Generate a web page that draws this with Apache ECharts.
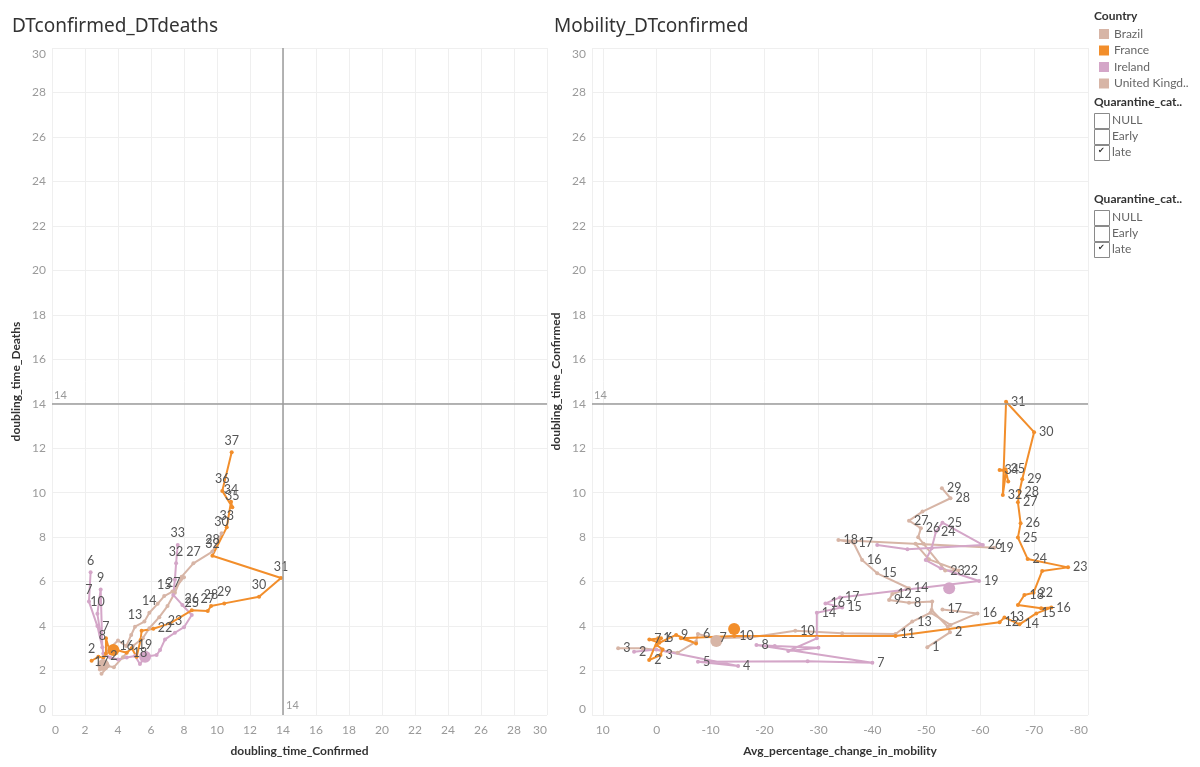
<!DOCTYPE html>
<html><head><meta charset="utf-8">
<script src="https://cdn.jsdelivr.net/npm/echarts/dist/echarts.min.js"></script>
<style>html,body{margin:0;padding:0;background:#fff}#c{width:1200px;height:767px}</style>
</head><body><div id="c"></div>
<script>
// ---------- data ----------
const countries = ['Brazil', 'France', 'Ireland', 'United Kingdom'];
const countryColors = ['#d7b5a6', '#f28e2b', '#d4a6c8', '#d7b5a6'];
const quarantineOptions = ['NULL', 'Early', 'late'];
const referenceValue = 14;

// Left chart: [doubling_time_Confirmed, doubling_time_Deaths, day label]
const dtBrazil = [[3.0,1.85,'17'],[3.4,2.2,''],[3.75,2.15,'2'],[4.3,2.6,''],[4.9,3.1,''],[5.5,3.45,''],[5.9,3.9,''],[6.5,4.4,''],[7.0,4.9,''],[7.45,5.5,''],[7.86,6.22,''],[8.57,6.82,'27'],[9.72,7.35,'28'],[10.28,8.17,'30']];
const dtFrance = [[2.40,2.44,'2'],[2.81,2.62,''],[3.11,2.59,''],[3.27,2.77,''],[3.27,3.45,'7'],[3.52,2.80,''],[3.92,2.92,''],[4.53,2.80,''],[4.83,3.00,''],[5.13,2.62,''],[5.37,3.37,''],[5.43,3.79,''],[6.14,3.88,''],[7.15,4.12,''],[8.47,4.71,'26'],[9.44,4.68,'27'],[9.64,4.90,'28'],[10.44,5.02,'29'],[12.55,5.32,'30'],[13.88,6.16,'31'],[9.72,7.16,'32'],[10.59,8.44,'33'],[10.85,9.59,'34'],[10.93,9.34,'35'],[10.32,10.08,'36'],[10.89,11.82,'37']];
const dtIreland = [[2.34,6.42,'6'],[2.24,5.10,'7'],[2.75,4.0,''],[3.05,3.05,'8'],[2.95,5.65,'9'],[2.75,4.55,'10'],[2.95,3.6,''],[3.11,2.77,''],[3.52,2.59,''],[4.0,2.5,''],[4.53,2.59,'16'],[5.03,2.65,''],[5.33,2.29,'18'],[5.64,2.62,'19'],[6.34,2.70,''],[6.55,2.92,''],[6.85,3.4,'22'],[7.45,3.7,'23'],[8.0,3.95,''],[8.47,4.5,'25'],[7.9,4.95,''],[7.35,5.4,'27'],[7.45,6.1,''],[7.52,6.82,'32'],[7.62,7.65,'33']];
const dtUK = [[2.9,2.05,''],[3.1,2.6,''],[3.5,3.0,''],[4.0,3.35,''],[4.5,3.1,''],[4.8,3.6,''],[5.03,3.97,'13'],[5.6,4.2,''],[5.9,4.6,'14'],[6.4,5.0,''],[6.8,5.35,'15'],[7.3,5.55,''],[8.0,6.2,'']];

// Right chart: [Avg_percentage_change_in_mobility, doubling_time_Confirmed, day label]
const mobBrazil = [[-50.2,3.05,'1'],[-54.4,3.72,'2'],[-54.0,3.97,''],[-51.0,4.72,''],[-51.1,5.10,''],[-46.8,5.05,'8'],[-43.1,5.17,'9'],[-43.7,5.44,'12'],[-46.8,5.70,'14'],[-40.9,6.37,'15'],[-38.1,6.97,'16'],[-36.5,7.75,'17'],[-33.7,7.87,'18'],[-62.6,7.52,'19'],[-48.0,7.7,''],[-50.5,7.0,''],[-56.0,6.5,'22'],[-53.5,6.5,'23'],[-49.5,7.7,''],[-48.5,8.0,''],[-49.0,8.40,'26'],[-46.8,8.74,'27'],[-49.3,9.15,''],[-54.5,9.75,'28'],[-52.9,10.2,'29']];
const mobFrance = [[-0.3,3.45,'1'],[1.4,2.47,'2'],[-0.7,2.70,'3'],[-1.1,2.95,''],[0.0,3.15,''],[-0.8,3.45,'6'],[1.37,3.40,'7'],[-0.5,3.25,''],[-3.6,3.60,'9'],[-7.3,3.22,''],[-4.5,3.45,''],[-14.4,3.55,'10'],[-44.3,3.55,''],[-63.6,4.17,'12'],[-64.5,4.39,'13'],[-67.3,4.08,'14'],[-70.4,4.57,'15'],[-73.2,4.83,'16'],[-71.3,4.80,''],[-67.0,4.95,''],[-68.2,5.40,'18'],[-69.9,5.50,'22'],[-71.5,6.48,''],[-76.3,6.64,'23'],[-68.8,7.02,'24'],[-67.0,7.98,'25'],[-67.5,8.62,'26'],[-67.0,9.57,'27'],[-67.3,10.05,'28'],[-67.8,10.60,'29'],[-70.0,12.72,'30'],[-64.8,14.09,'31'],[-64.2,9.90,'32'],[-64.8,10.94,''],[-63.6,11.02,'34'],[-64.7,11.05,'35'],[-65.2,10.5,'']];
const mobIreland = [[4.2,2.85,'2'],[0.1,2.95,''],[-15.1,2.20,'4'],[-7.65,2.40,'5'],[-28,2.42,''],[-40.0,2.35,'7'],[-18.5,3.15,'8'],[-21.9,3.1,''],[-30.0,3.03,''],[-24.4,2.88,''],[-29.7,3.45,''],[-29.7,4.60,'14'],[-34.4,4.84,'15'],[-31.3,5.02,'16'],[-34.0,5.29,'17'],[-59.8,6.03,'19'],[-52.7,6.6,''],[-49.9,6.97,''],[-51.0,7.5,''],[-51.8,8.25,'24'],[-53.0,8.65,'25'],[-60.5,7.65,'26'],[-46.5,7.45,''],[-40.9,7.65,'']];
const mobUK = [[7.15,3.0,'3'],[2.6,3.0,''],[-3.9,2.8,''],[-7.3,3.3,''],[-7.65,3.64,'6'],[-10.7,3.45,'7'],[-17.6,3.5,''],[-25.7,3.79,'10'],[-34.4,3.68,''],[-44.3,3.64,'11'],[-47.4,4.2,'13'],[-50.8,4.6,''],[-54.5,4.05,''],[-59.5,4.57,'16'],[-53.0,4.75,'17']];

// Highlighted (large) marks per country
const dtHighlight = { France: [3.72,2.92], Ireland: [5.64,2.62], 'United Kingdom': [3.11,2.25] };
const mobHighlight = { France: [-14.36,3.87], Ireland: [-54.25,5.70], 'United Kingdom': [-11.06,3.33] };

// ---------- chart ----------
const FONT = 'Lato, "Noto Sans", sans-serif';
const TITLE_FONT = '"Noto Sans", Lato, sans-serif';
const colorOf = n => countryColors[countries.indexOf(n)];
const chart = echarts.init(document.getElementById('c'));

function lineSeries(name, data, idx, pos) {
  const c = colorOf(name);
  return {
    type: 'line', name, xAxisIndex: idx, yAxisIndex: idx, data,
    encode: { x: 0, y: 1 }, symbol: 'circle', symbolSize: 4, showSymbol: true,
    lineStyle: { width: 2, color: c }, itemStyle: { color: c },
    label: { show: true, position: pos, distance: 3, formatter: p => p.data[2],
             color: '#555', fontSize: 12.5, fontFamily: FONT },
    emphasis: { disabled: true }, animation: false
  };
}
function highlightSeries(name, pt, idx) {
  return {
    type: 'scatter', name, xAxisIndex: idx, yAxisIndex: idx, data: [pt],
    symbolSize: 12, itemStyle: { color: colorOf(name), opacity: 1 },
    emphasis: { disabled: true }, animation: false, z: 3
  };
}
const axisLabelStyle = { color: '#9a9a9a', fontSize: 12, fontFamily: FONT };
const splitStyle = { show: true, lineStyle: { color: '#efefef', width: 1 } };
const nameStyle = { color: '#333', fontSize: 12, fontWeight: 'bold', fontFamily: FONT };
const refLine = { color: '#9b9b9b', width: 1.5, type: 'solid' };
const refLabel = { color: '#999', fontSize: 11, fontFamily: FONT };

const order = ['Brazil', 'United Kingdom', 'Ireland', 'France'];
const dtData = { Brazil: dtBrazil, France: dtFrance, Ireland: dtIreland, 'United Kingdom': dtUK };
const mobData = { Brazil: mobBrazil, France: mobFrance, Ireland: mobIreland, 'United Kingdom': mobUK };

const series = [];
// reference lines
series.push({
  type: 'line', name: 'ref0', xAxisIndex: 0, yAxisIndex: 0, data: [], silent: true,
  markLine: { silent: true, symbol: 'none', lineStyle: refLine,
    data: [
      { yAxis: referenceValue, label: { show: true, position: 'insideStartTop', formatter: String(referenceValue), ...refLabel, distance: [2, 3] } },
      { xAxis: referenceValue, label: { show: false } }
    ] },
  markPoint: { symbol: 'circle', symbolSize: 0,
    data: [{ coord: [referenceValue, 0], label: { show: true, position: 'right', distance: 3, offset: [0, -10], formatter: String(referenceValue), ...refLabel } }] }
});
series.push({
  type: 'line', name: 'ref1', xAxisIndex: 1, yAxisIndex: 1, data: [], silent: true,
  markLine: { silent: true, symbol: 'none', lineStyle: refLine,
    data: [{ yAxis: referenceValue, label: { show: true, position: 'insideEndTop', formatter: String(referenceValue), ...refLabel, distance: [2, 3] } }] }
});
order.forEach(n => series.push(lineSeries(n, dtData[n], 0, 'top')));
order.forEach(n => series.push(lineSeries(n, mobData[n], 1, 'right')));
Object.keys(dtHighlight).forEach(n => series.push(highlightSeries(n, dtHighlight[n], 0)));
Object.keys(mobHighlight).forEach(n => series.push(highlightSeries(n, mobHighlight[n], 1)));

// side panel (filter cards)
const panel = [];
panel.push({ type: 'text', left: 1094, top: 10, style: { text: 'Country', fill: '#333', font: 'bold 12px ' + FONT } });
function checkGroup(top) {
  panel.push({ type: 'text', left: 1094, top: top, style: { text: 'Quarantine_cat..', fill: '#333', font: 'bold 12px ' + FONT } });
  quarantineOptions.forEach((o, i) => {
    const y = top + 17 + i * 16;
    panel.push({ type: 'rect', shape: { x: 1094.5, y: y + 0.5, width: 15, height: 15 }, style: { fill: '#fff', stroke: '#8a8a8a', lineWidth: 1 } });
    panel.push({ type: 'text', left: 1112, top: y + 1, style: { text: o, fill: '#666', font: '12px ' + FONT } });
    if (o === 'late') panel.push({ type: 'text', left: 1098, top: y + 2, style: { text: '✔', fill: '#333', font: '8px "DejaVu Sans"' } });
  });
}
checkGroup(96);
checkGroup(193);

chart.setOption({
  backgroundColor: '#fff',
  animation: false,
  textStyle: { fontFamily: FONT },
  title: [
    { text: 'DTconfirmed_DTdeaths', left: 7, top: 12, textStyle: { fontSize: 19, fontWeight: 'normal', color: '#333', fontFamily: TITLE_FONT } },
    { text: 'Mobility_DTconfirmed', left: 549, top: 12, textStyle: { fontSize: 19, fontWeight: 'normal', color: '#333', fontFamily: TITLE_FONT } }
  ],
  legend: {
    data: countries, orient: 'vertical', left: 1094, top: 22, icon: 'rect',
    itemWidth: 10, itemHeight: 10, itemGap: 2.5, selectedMode: false,
    formatter: n => n.length > 12 ? n.slice(0, 12) + '..' : n,
    textStyle: { color: '#666', fontSize: 12, fontFamily: FONT, lineHeight: 14 }
  },
  grid: [
    { left: 52, right: 653, top: 48, bottom: 52 },
    { left: 592, right: 112, top: 48, bottom: 52 }
  ],
  xAxis: [
    { type: 'value', gridIndex: 0, min: 0, max: 30, interval: 2, name: 'doubling_time_Confirmed',
      nameLocation: 'middle', nameGap: 30, nameTextStyle: nameStyle,
      axisLine: { show: false }, axisTick: { show: false },
      axisLabel: { ...axisLabelStyle, margin: 9, alignMinLabel: 'left', alignMaxLabel: 'right' }, splitLine: splitStyle },
    { type: 'value', gridIndex: 1, min: -80, max: 12, interval: 10, inverse: true, name: 'Avg_percentage_change_in_mobility',
      nameLocation: 'middle', nameGap: 30, nameTextStyle: nameStyle,
      axisLine: { show: false }, axisTick: { show: false },
      axisLabel: { ...axisLabelStyle, margin: 9, showMaxLabel: false, alignMinLabel: 'right' }, splitLine: splitStyle }
  ],
  yAxis: [
    { type: 'value', gridIndex: 0, min: 0, max: 30, interval: 2, name: 'doubling_time_Deaths',
      nameLocation: 'middle', nameGap: 30, nameTextStyle: nameStyle,
      axisLine: { show: false }, axisTick: { show: false },
      axisLabel: { ...axisLabelStyle, margin: 6, verticalAlignMinLabel: 'bottom', verticalAlignMaxLabel: 'top' }, splitLine: splitStyle },
    { type: 'value', gridIndex: 1, min: 0, max: 30, interval: 2, name: 'doubling_time_Confirmed',
      nameLocation: 'middle', nameGap: 30, nameTextStyle: nameStyle,
      axisLine: { show: false }, axisTick: { show: false },
      axisLabel: { ...axisLabelStyle, margin: 6, verticalAlignMinLabel: 'bottom', verticalAlignMaxLabel: 'top' }, splitLine: splitStyle }
  ],
  series,
  graphic: panel
});
</script>
</body></html>
